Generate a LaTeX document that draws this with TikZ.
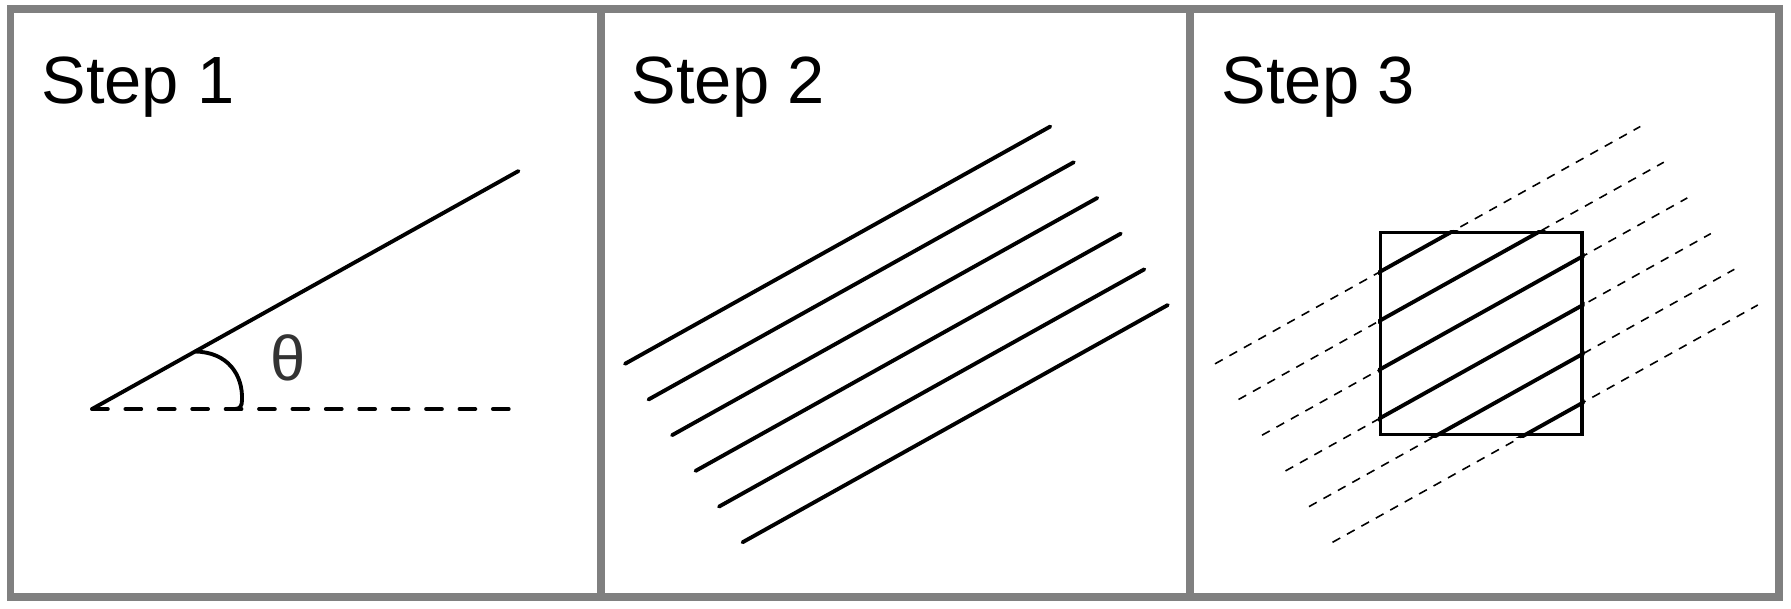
\documentclass[tikz,border=0pt]{standalone}
\usepackage{fontspec}
\setmainfont{Liberation Sans}
\usetikzlibrary{calc}

\tikzset{
    frame/.style={draw=black!50, line width=2.1pt},
    ray/.style={line width=1.1pt, line cap=round},
    guide/.style={line width=1.1pt, line cap=round, dash pattern=on 4.5pt off 5pt},
    hatch/.style={line width=0.45pt, dash pattern=on 2.5pt off 2.2pt},
    steplabel/.style={font=\fontsize{19}{23}\selectfont, inner sep=0pt, anchor=base west}
}

\begin{document}
\begin{tikzpicture}[x=0.01cm, y=-0.01cm]
    \useasboundingbox (0,0) rectangle (1791,608);

    % Panels
    \draw[frame] (10.5,9) rectangle (1779,597);
    \draw[frame] (601,9) -- (601,597);
    \draw[frame] (1190,9) -- (1190,597);

    % Labels
    \node[steplabel] (step1) at (41,103) {Step 1};
    \node[steplabel] (step2) at (631,103) {Step 2};
    \node[steplabel] (step3) at (1221,103) {Step 3};

    % Step 1: one line and its angle
    \coordinate (o) at (92,409);
    \coordinate (tip) at (518.5,171);
    \coordinate (far) at (511,409);
    \coordinate (arcstart) at (195,351.5);
    \draw[ray] (o) -- (tip);
    \draw[guide] (o) -- (far);
    \draw[ray] (arcstart) .. controls (228,352) and (243,375) .. (242,400)
        .. controls (242,406) and (240,409) .. (235,409);
    \node[text=black!80, font=\fontsize{18}{22}\selectfont, inner sep=0pt] (theta) at (288,358) {θ};

    % Step 2: parallel lines
    \foreach \i in {0,...,5}
        \draw[ray] ($(625,363.8)+\i*(23.5,35.7)$) -- ++(425.3,-237.3);

    % Step 3: lines clipped by the square
    \foreach \i in {0,...,5}
        \draw[hatch] ($(1215,363.8)+\i*(23.5,35.7)$) -- ++(425.3,-237.3);
    \begin{scope}
        \clip (1378,230) rectangle (1584.5,437);
        \foreach \i in {0,...,5}
            \draw[ray] ($(1215,363.8)+\i*(23.5,35.7)$) -- ++(425.3,-237.3);
    \end{scope}
    \draw[ray, line cap=butt] (1380.5,232.5) rectangle (1582,434.5);
\end{tikzpicture}
\end{document}
